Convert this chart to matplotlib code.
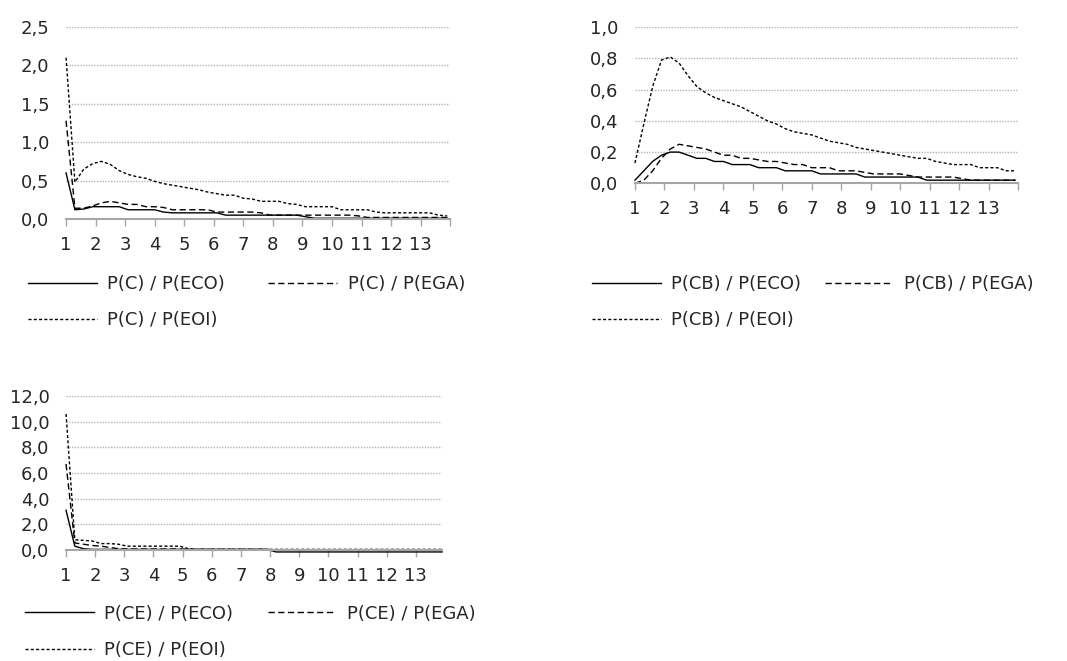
import matplotlib.pyplot as plt
from matplotlib.ticker import FuncFormatter

plt.rcParams['font.family'] = ['DejaVu Sans']

# time axis (category positions)
x = [1.0, 1.3, 1.6, 1.9, 2.2, 2.5, 2.8, 3.1, 3.4, 3.7, 4.0, 4.3, 4.6, 4.9, 5.2,
     5.5, 5.8, 6.1, 6.4, 6.7, 7.0, 7.3, 7.6, 7.9, 8.2, 8.5, 8.8, 9.1, 9.4, 9.7,
     10.0, 10.3, 10.6, 10.9, 11.2, 11.5, 11.8, 12.1, 12.4, 12.7, 13.0, 13.3, 13.6, 13.9]

# P(C)
c_eco = [0.60, 0.12, 0.13, 0.16, 0.16, 0.16, 0.16, 0.12, 0.12, 0.12, 0.12, 0.09, 0.08, 0.08,
         0.08, 0.08, 0.08, 0.08, 0.05, 0.05, 0.05, 0.05, 0.05, 0.05, 0.05, 0.05, 0.05, 0.03,
         0.01, 0.01, 0.01, 0.01, 0.01, 0.01, 0.01, 0.01, 0.01, 0.01, 0.01, 0.01, 0.01, 0.01,
         0.01, 0.01]
c_ega = [1.28, 0.14, 0.14, 0.17, 0.21, 0.23, 0.21, 0.19, 0.19, 0.16, 0.16, 0.15, 0.12, 0.12,
         0.12, 0.12, 0.12, 0.09, 0.09, 0.09, 0.09, 0.09, 0.08, 0.05, 0.05, 0.05, 0.05, 0.05,
         0.05, 0.05, 0.05, 0.05, 0.05, 0.04, 0.02, 0.02, 0.02, 0.02, 0.02, 0.02, 0.02, 0.02,
         0.02, 0.02]
c_eoi = [2.10, 0.48, 0.65, 0.72, 0.75, 0.71, 0.63, 0.58, 0.55, 0.53, 0.49, 0.46, 0.44, 0.42,
         0.40, 0.38, 0.35, 0.33, 0.31, 0.31, 0.27, 0.26, 0.23, 0.23, 0.23, 0.20, 0.19, 0.16,
         0.16, 0.16, 0.16, 0.12, 0.12, 0.12, 0.12, 0.09, 0.08, 0.08, 0.08, 0.08, 0.08, 0.08,
         0.05, 0.04]

# P(CB)
cb_eco = [0.02, 0.08, 0.14, 0.18, 0.20, 0.20, 0.18, 0.16, 0.16, 0.14, 0.14, 0.12, 0.12, 0.12,
          0.10, 0.10, 0.10, 0.08, 0.08, 0.08, 0.08, 0.06, 0.06, 0.06, 0.06, 0.06, 0.04, 0.04,
          0.04, 0.04, 0.04, 0.04, 0.04, 0.02, 0.02, 0.02, 0.02, 0.02, 0.02, 0.02, 0.02, 0.02,
          0.02, 0.02]
cb_ega = [0.00, 0.02, 0.08, 0.16, 0.22, 0.25, 0.24, 0.23, 0.22, 0.20, 0.18, 0.18, 0.16, 0.16,
          0.15, 0.14, 0.14, 0.13, 0.12, 0.12, 0.10, 0.10, 0.10, 0.08, 0.08, 0.08, 0.07, 0.06,
          0.06, 0.06, 0.06, 0.05, 0.04, 0.04, 0.04, 0.04, 0.04, 0.03, 0.02, 0.02, 0.02, 0.02,
          0.02, 0.02]
cb_eoi = [0.13, 0.38, 0.62, 0.79, 0.81, 0.77, 0.69, 0.62, 0.58, 0.55, 0.53, 0.51, 0.49, 0.46,
          0.43, 0.40, 0.38, 0.35, 0.33, 0.32, 0.31, 0.29, 0.27, 0.26, 0.25, 0.23, 0.22, 0.21,
          0.20, 0.19, 0.18, 0.17, 0.16, 0.16, 0.14, 0.13, 0.12, 0.12, 0.12, 0.10, 0.10, 0.10,
          0.08, 0.08]

# P(CE)
ce_eco = [3.10, 0.30, 0.10] + [0.05] * 21 + [-0.15] * 20
ce_ega = [6.70, 0.55, 0.45, 0.35, 0.30, 0.20, 0.10] + [0.08] * 7 + [0.05] * 10 + [0.0] * 20
ce_eoi = [10.60, 0.80, 0.75, 0.70, 0.50, 0.50, 0.45, 0.30, 0.30, 0.30, 0.30, 0.30, 0.30, 0.30,
          0.10] + [0.05] * 29

panels = [
    ('C', c_eco, c_ega, c_eoi, [0.0, 0.5, 1.0, 1.5, 2.0, 2.5], 14.0),
    ('CB', cb_eco, cb_ega, cb_eoi, [0.0, 0.2, 0.4, 0.6, 0.8, 1.0], 14.0),
    ('CE', ce_eco, ce_ega, ce_eoi, [0.0, 2.0, 4.0, 6.0, 8.0, 10.0, 12.0], 13.9),
]

# axes rectangles, legend anchors (figure fractions) and legend column gaps
rects = [[0.0619, 0.6687, 0.360, 0.2905],
         [0.5951, 0.7227, 0.359, 0.2360],
         [0.0619, 0.1679, 0.3524, 0.2330]]
leg_pos = [(0.0262, 0.584), (0.5548, 0.584), (0.0234, 0.085)]
col_gap = [2.4, 1.3, 1.9]

txt = '#262626'
fs = 13
fig = plt.figure(figsize=(10.67, 6.61), dpi=100)

for (name, eco, ega, eoi, yt, xmax), r, lp, cg in zip(panels, rects, leg_pos, col_gap):
    ax = fig.add_axes(r)
    l1, = ax.plot(x, eco, color='black', lw=1.0, clip_on=False,
                  label=f'P({name}) / P(ECO)')
    l2, = ax.plot(x, ega, color='black', lw=1.0, dashes=(4.5, 2.5), clip_on=False,
                  label=f'P({name}) / P(EGA)')
    l3, = ax.plot(x, eoi, color='black', lw=1.0, dashes=(2.2, 1.6), clip_on=False,
                  label=f'P({name}) / P(EOI)')

    ax.set_xlim(1, xmax)
    ax.set_ylim(yt[0], yt[-1])
    ax.set_yticks(yt)
    ax.yaxis.set_major_formatter(FuncFormatter(lambda v, p: f'{v:.1f}'.replace('.', ',')))
    ticks = list(range(1, 15)) if xmax >= 14 else list(range(1, 14))
    ax.set_xticks(ticks)
    ax.set_xticklabels([str(t) if t <= 13 else '' for t in ticks])
    ax.grid(axis='y', color='#b4b4b4', lw=1.0, ls=(0, (1, 1)))
    ax.set_axisbelow(True)
    for s in ['top', 'right', 'left']:
        ax.spines[s].set_visible(False)
    ax.spines['bottom'].set_color('#a6a6a6')
    ax.spines['bottom'].set_linewidth(1.5)
    ax.tick_params(axis='x', length=5, width=1, color='#a6a6a6', pad=7,
                   labelsize=fs, labelcolor=txt)
    ax.tick_params(axis='y', length=0, pad=12, labelsize=fs, labelcolor=txt)

    ax.legend(handles=[l1, l3, l2], loc='upper left', bbox_to_anchor=lp,
              bbox_transform=fig.transFigure, ncol=2, frameon=False,
              fontsize=fs, labelcolor=txt, handlelength=3.8, handletextpad=0.6,
              columnspacing=cg, labelspacing=1.0, borderpad=0, borderaxespad=0)

fig.savefig('out.png', dpi=100)
